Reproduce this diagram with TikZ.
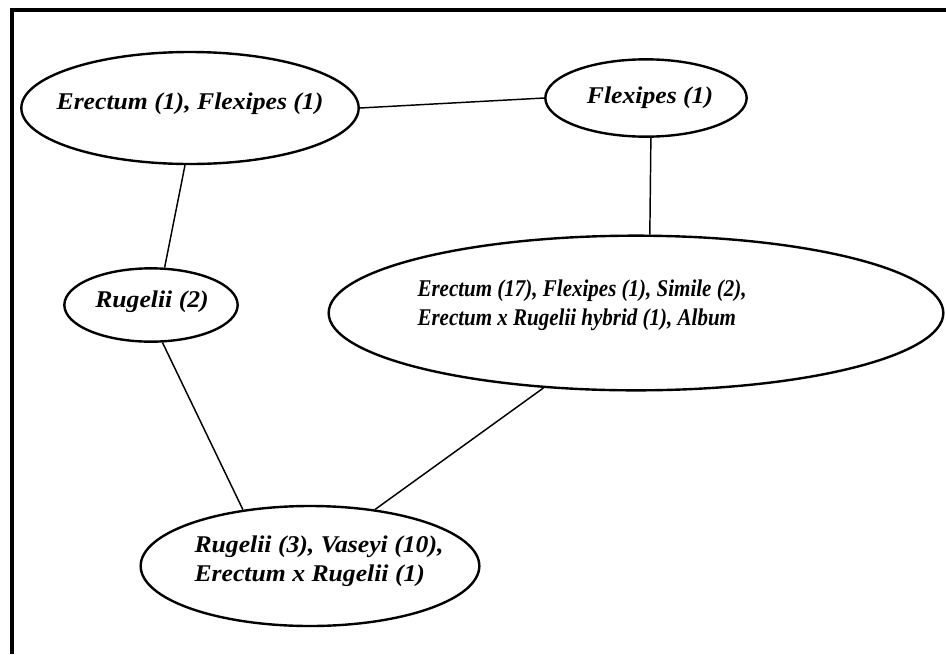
\documentclass[tikz,border=0pt]{standalone}
\usepackage{fontspec}
\setmainfont{Liberation Serif}[FakeStretch=1.07]
\newfontfamily\narrowserif{Liberation Serif}[FakeStretch=0.875]
\usetikzlibrary{shapes.geometric}
\tikzset{
  species/.style={ellipse, draw=black, line width=1.8pt, inner sep=0pt},
  tally/.style={align=left, inner sep=0pt,
    font=\fontsize{18}{22}\selectfont\bfseries\itshape},
  link/.style={line width=1.1pt}
}

\begin{document}
\begin{tikzpicture}[x=0.75pt, y=-0.75pt]
    \useasboundingbox (0,0) rectangle (946,654);

    % Frame (top and left only)
    \draw[line width=3pt] (12,654) -- (12,10) -- (946,10);

    % Ellipses
    \node[species, minimum width=253pt, minimum height=84pt] (both) at (190,108) {};
    \node[species, minimum width=151pt, minimum height=58pt] (flex) at (646,98) {};
    \node[species, minimum width=130pt, minimum height=55pt] (rug) at (151,305) {};
    \node[species, minimum width=461pt, minimum height=116pt] (big) at (636,313) {};
    \node[species, minimum width=254pt, minimum height=90pt] (low) at (310,566) {};

    % Texts
    \node[tally] (bothtxt) at (190,104) {Erectum (1), Flexipes (1)};
    \node[tally] (flextxt) at (650,98) {Flexipes (1)};
    \node[tally] (rugtxt) at (152,302) {Rugelii (2)};
    \node[tally, font=\fontsize{18}{22}\narrowserif\bfseries\itshape] (bigtxt) at (582,305) {Erectum (17), Flexipes (1), Simile (2),\\Erectum x Rugelii hybrid (1), Album};
    \node[tally] (lowtxt) at (319,561) {Rugelii (3), Vaseyi (10),\\Erectum x Rugelii (1)};

    % Links
    \draw[link] (both.east) -- (flex.west);
    \draw[link] (both.265) -- (rug.70);
    \draw[link] (flex.277) -- (big.80);
    \draw[link] (rug.287) -- (low.140);
    \draw[link] (big.219) -- (low.41);
\end{tikzpicture}
\end{document}
